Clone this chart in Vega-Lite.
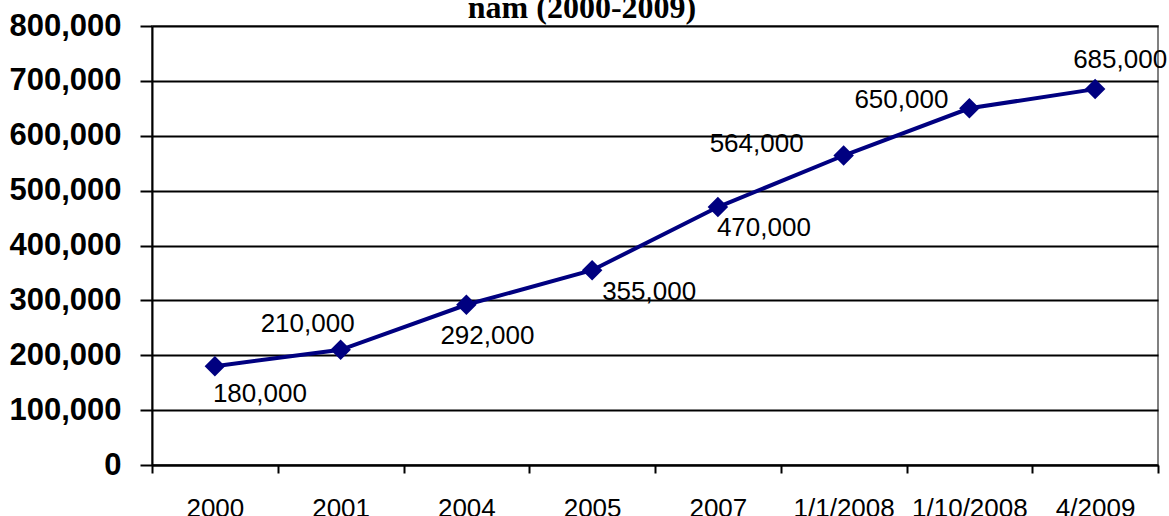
{
  "$schema": "https://vega.github.io/schema/vega-lite/v6.json",
  "autosize": "none",
  "width": 1006,
  "height": 439,
  "padding": {"left": 152, "top": 26, "right": 11, "bottom": 51},
  "background": "white",
  "title": {
    "text": "năm (2000-2009)",
    "font": "Liberation Serif",
    "fontSize": 32,
    "fontWeight": "bold",
    "color": "black",
    "anchor": "middle",
    "baseline": "alphabetic",
    "dx": -73,
    "dy": 47,
    "offset": 7
  },
  "config": {
    "view": {"stroke": "#808080", "strokeWidth": 2},
    "text": {"font": "Liberation Sans", "fontSize": 26, "color": "black"}
  },
  "data": {
    "values": [
      {"period": "2000", "value": 180000},
      {"period": "2001", "value": 210000},
      {"period": "2004", "value": 292000},
      {"period": "2005", "value": 355000},
      {"period": "2007", "value": 470000},
      {"period": "1/1/2008", "value": 564000},
      {"period": "1/10/2008", "value": 650000},
      {"period": "4/2009", "value": 685000}
    ]
  },
  "encoding": {
    "x": {
      "field": "period",
      "type": "ordinal",
      "sort": null,
      "scale": {"paddingInner": 0, "paddingOuter": 0},
      "axis": {
        "title": null,
        "labelAngle": 0,
        "labelFont": "Liberation Sans",
        "labelFontSize": 26,
        "labelColor": "black",
        "labelPadding": 22,
        "labelBaseline": "top",
        "tickBand": "extent",
        "tickSize": 8,
        "tickWidth": 2,
        "tickColor": "black",
        "domainColor": "black",
        "domainWidth": 2,
        "grid": false
      }
    },
    "y": {
      "field": "value",
      "type": "quantitative",
      "scale": {"domain": [0, 800000], "nice": false},
      "axis": {
        "title": null,
        "values": [0, 100000, 200000, 300000, 400000, 500000, 600000, 700000, 800000],
        "format": ",d",
        "labelFont": "Liberation Sans",
        "labelFontSize": 31,
        "labelFontWeight": "bold",
        "labelColor": "black",
        "labelPadding": 19,
        "tickSize": 12,
        "tickWidth": 2,
        "tickColor": "black",
        "domainColor": "black",
        "domainWidth": 2,
        "grid": true,
        "gridColor": "black",
        "gridWidth": 2,
        "gridOpacity": 1
      }
    }
  },
  "layer": [
    {
      "mark": {
        "type": "line",
        "color": "#000080",
        "strokeWidth": 4,
        "point": {"shape": "diamond", "size": 420, "filled": true, "color": "#000080", "opacity": 1}
      }
    },
    {"transform": [{"filter": "datum.period == '2000'"}], "mark": {"type": "text", "dx": 45, "dy": 28}, "encoding": {"text": {"field": "value", "format": ",d"}}},
    {"transform": [{"filter": "datum.period == '2001'"}], "mark": {"type": "text", "dx": -33, "dy": -26}, "encoding": {"text": {"field": "value", "format": ",d"}}},
    {"transform": [{"filter": "datum.period == '2004'"}], "mark": {"type": "text", "dx": 21, "dy": 31}, "encoding": {"text": {"field": "value", "format": ",d"}}},
    {"transform": [{"filter": "datum.period == '2005'"}], "mark": {"type": "text", "dx": 57, "dy": 22}, "encoding": {"text": {"field": "value", "format": ",d"}}},
    {"transform": [{"filter": "datum.period == '2007'"}], "mark": {"type": "text", "dx": 46, "dy": 21}, "encoding": {"text": {"field": "value", "format": ",d"}}},
    {"transform": [{"filter": "datum.period == '1/1/2008'"}], "mark": {"type": "text", "dx": -87, "dy": -12}, "encoding": {"text": {"field": "value", "format": ",d"}}},
    {"transform": [{"filter": "datum.period == '1/10/2008'"}], "mark": {"type": "text", "dx": -68, "dy": -8}, "encoding": {"text": {"field": "value", "format": ",d"}}},
    {"transform": [{"filter": "datum.period == '4/2009'"}], "mark": {"type": "text", "dx": 25, "dy": -29}, "encoding": {"text": {"field": "value", "format": ",d"}}}
  ]
}
